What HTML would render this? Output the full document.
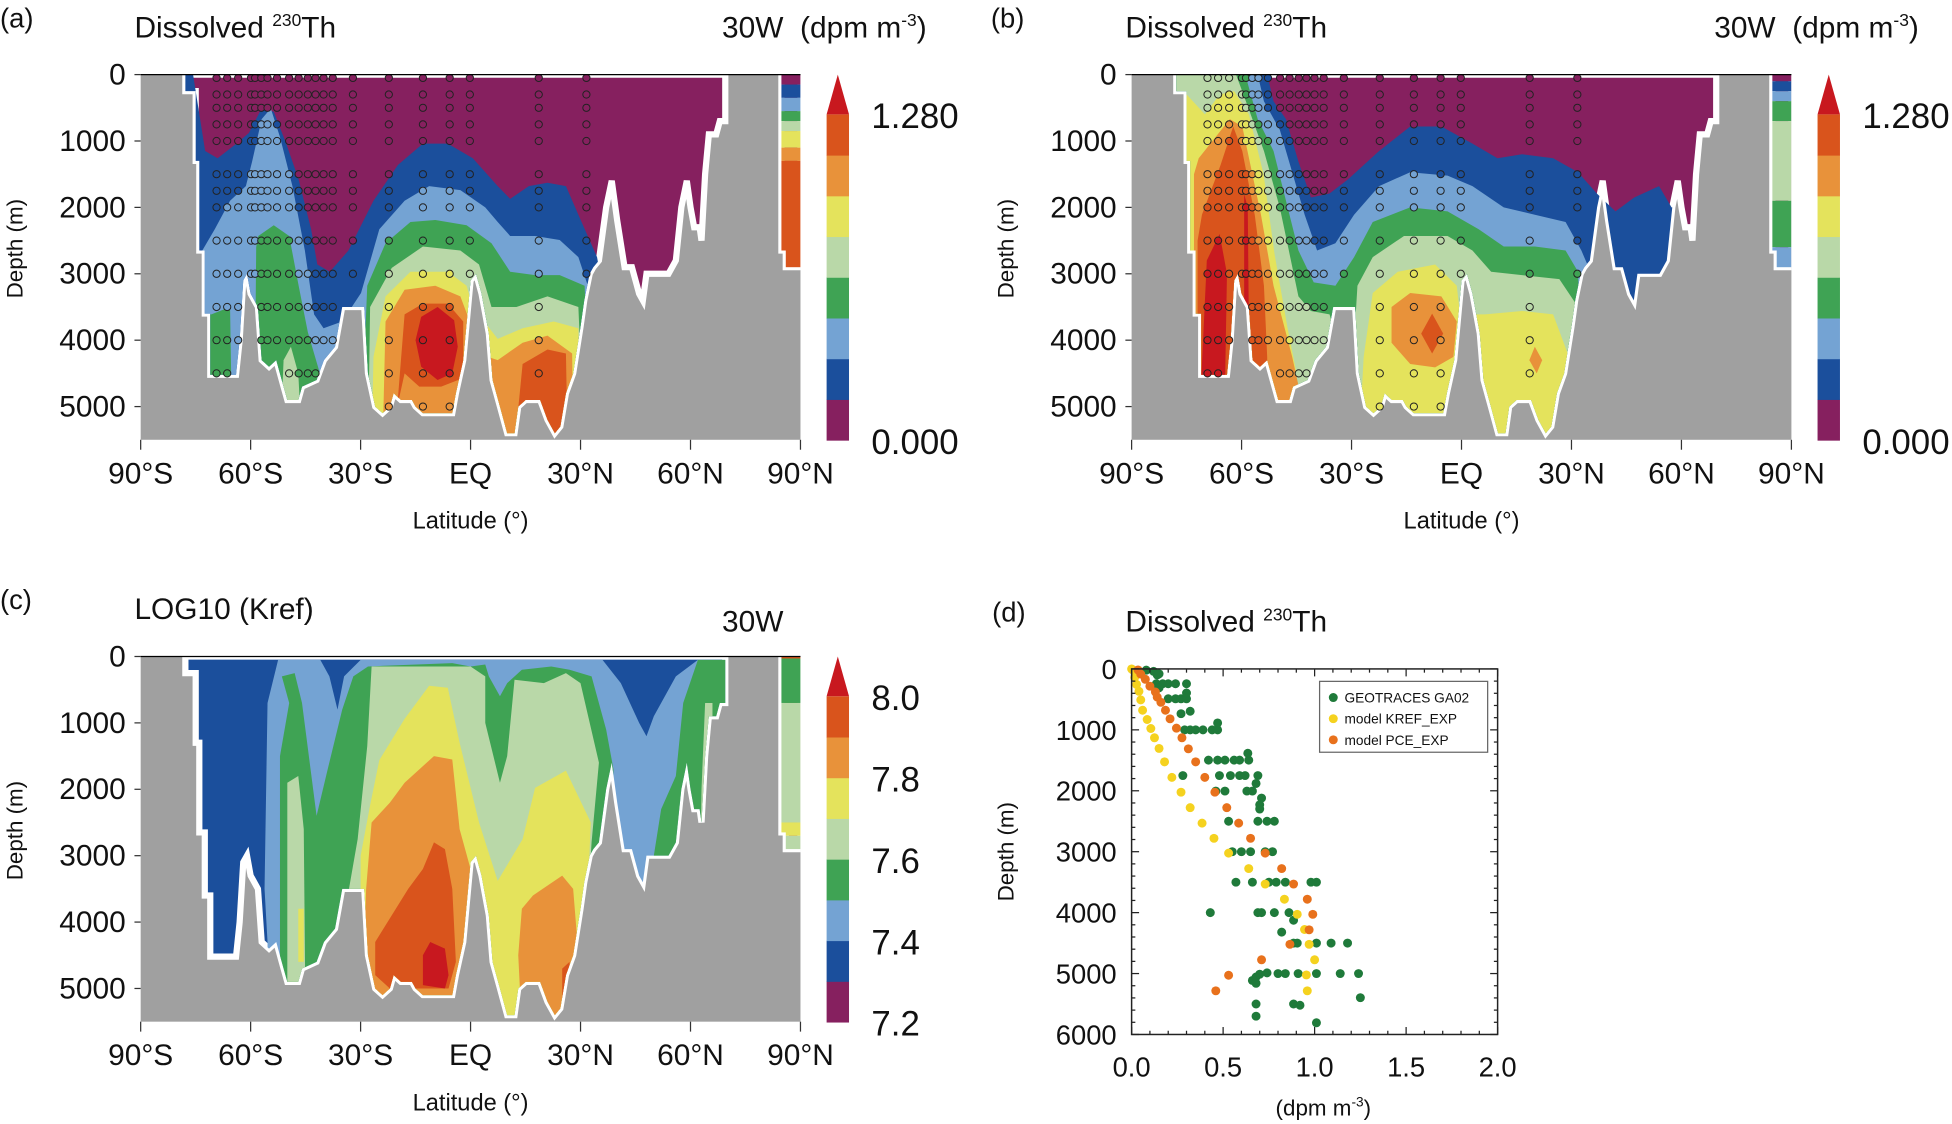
<!DOCTYPE html>
<html><head><meta charset="utf-8"><style>
html,body{margin:0;padding:0;background:#fff;}
svg{display:block;}
text{font-family:"Liberation Sans",sans-serif;fill:#111;}
</style></head><body>
<svg id="fig" width="1952" height="1124" viewBox="0 0 1568 904" preserveAspectRatio="none" xmlns="http://www.w3.org/2000/svg">
<defs></defs>
</svg>
<script>
// ---------- shared data ----------
const levelColors = ['#86205f','#1b4f9c','#74a3d3','#3fa354','#b9d8a8','#e4e35c','#e8923a','#d9541c','#c8181f'];
const latTicks = [-90,-60,-30,0,30,60,90];
const latTickLabels = ['90°S','60°S','30°S','EQ','30°N','60°N','90°N'];
const depthTicks = [0,1000,2000,3000,4000,5000];
const cbarLabelsAB = ['1.280','0.000'];
const cbarLabelsC = ['8.0','7.8','7.6','7.4','7.2'];
// ocean section outline (lat, depth)
const oceanOutline = [[-77.8,0],[-77.8,250],[-75,250],[-75,1300],[-74,1300],[-74,2650],[-72.5,2650],[-72.5,3600],[-71,3600],[-71,4520],
[-64,4520],[-63,4000],[-62,3100],[-61,3000],[-60,3300],[-58,3500],[-57,4300],[-55,4400],[-53,4300],[-51,4700],[-50,4900],[-47,4900],[-46,4700],[-42,4600],[-40,4300],[-37,4100],[-35,3500],[-29,3500],[-28,4500],[-26,5000],[-24,5100],[-22,5000],[-21,4800],[-19,4900],[-16,4900],[-15,5000],[-13,5100],[-5,5100],[-4,4800],[-2,4300],[0,3100],[1.5,3000],[3,3300],[5,3900],[6,4600],[8,5000],[10,5400],[12,5400],[13,5000],[15,4900],[19,4900],[21,5200],[23,5400],[24.5,5300],[26,4800],[28,4500],[30,3800],[31,3400],[32.5,3000],[33.5,2900],[35,2800],[37,2000],[38.5,1600],[40,2200],[42,2900],[44,2900],[46,3300],[47,3400],[48,3000],[54,3000],[56,2800],[57.5,2000],[59,1600],[60,2000],[61,2300],[62.5,2300],[63,2500],[64,1500],[65,900],[67,900],[68,700],[69.5,700],[69.5,0]];
const arcticOutline = [[84.8,0],[90,0],[90,2900],[86,2900],[86,2650],[84.8,2650]];

// panel a contour regions (value >= level k)
const contoursA = [
 [1,[[-80,0],[-75.7,0],[-72.4,1150],[-69,1260],[-63.9,1040],[-60.5,880],[-57,510],[-53.7,560],[-50.3,1040],[-46.9,1580],[-43.5,2330],[-41.8,2860],[-38.4,2970],[-33.3,2650],[-26.5,1900],[-19.8,1360],[-13,1040],[-6.2,1040],[0.6,1260],[7.4,1680],[10.8,1870],[15.9,1680],[21,1630],[26,1680],[29.4,2110],[34.5,2750],[36,3200],[36,6000],[-80,6000]]],
 [2,[[-80,6000],[-73.2,6000],[-73.2,2650],[-69.8,2330],[-65.6,1900],[-61.3,1680],[-59.6,1310],[-57,670],[-54.5,510],[-52,940],[-48.6,1680],[-45.2,2650],[-42.7,3610],[-40.1,3820],[-35,3720],[-29.9,3290],[-24.9,2330],[-18,1900],[-11.3,1680],[-2.8,1740],[4,2000],[7.4,2220],[10.8,2430],[17.6,2430],[24.3,2490],[29.4,2750],[32,3180],[34,3500],[34,6000]]],
 [3,[[-72,6000],[-72,3610],[-70.7,3610],[-65.6,3500],[-65,6000]]],
 [3,[[-59,6000],[-58.5,2600],[-57.9,2430],[-53.7,2270],[-49.5,2430],[-46.9,3180],[-44.4,3880],[-41,4520],[-40,6000]]],
 [3,[[-30,6000],[-28.2,3180],[-23.2,2540],[-16.4,2220],[-9.6,2190],[-1.1,2270],[5.7,2540],[10.8,2970],[17.6,3020],[24.3,3020],[31.1,3180],[33,6000]]],
 [4,[[-52,6000],[-51,4300],[-49,4100],[-47,4500],[-46,6000]]],
 [4,[[-28,6000],[-27.4,3500],[-21.5,2910],[-13,2590],[-2.8,2650],[2.3,2860],[5.7,3500],[12.5,3500],[21,3340],[29.4,3500],[31,6000]]],
 [5,[[-27,6000],[-26.5,4250],[-23.2,3340],[-16.4,2970],[-6.2,2970],[-1.1,3180],[0.6,3500],[7.4,3980],[14.2,3820],[22.7,3720],[29.4,3820],[30,6000]]],
 [6,[[-24,6000],[-23.2,3720],[-18,3240],[-9.6,3180],[-2.8,3340],[-0.2,3720],[2,4200],[7.4,4300],[14.2,4040],[21,3930],[27.7,4200],[28,6000]]],
 [7,[[-20,5000],[-18,3610],[-13,3450],[-6.2,3450],[-2,3720],[-2,4570],[-8,4700],[-14,4700],[-18,4500]]],
 [7,[[12,6000],[14.2,4360],[21,4140],[26,4200],[26.5,6000]]],
 [8,[[-15,4000],[-13.5,3650],[-9,3500],[-4.5,3700],[-3.5,4100],[-5,4500],[-9,4600],[-13.5,4400]]]
];
const contoursB = [
 [1,[[-80,0],[-53,0],[-51.3,400],[-47.9,670],[-44.5,1310],[-41.1,1850],[-36,1790],[-31,1580],[-22.5,1150],[-14,780],[-5.5,780],[3,1040],[9.8,1260],[16.5,1200],[25,1260],[31.8,1470],[36.9,1790],[42,2060],[47.1,1850],[53.9,1680],[57.3,2000],[58.5,2000],[58.5,6000],[-80,6000]]],
 [2,[[-80,0],[-55.6,0],[-53.9,400],[-49.6,830],[-46.2,1470],[-42.8,2110],[-39.4,2650],[-34.4,2540],[-29.3,2110],[-22.5,1680],[-14,1470],[-3.8,1520],[3,1680],[11.5,2000],[20,2110],[28.4,2220],[32.7,2650],[35.2,2970],[36,3000],[36,6000],[-80,6000]]],
 [3,[[-80,0],[-59,0],[-55.6,670],[-51.3,1150],[-47.9,1900],[-44.5,2650],[-40.3,3130],[-34.4,3180],[-29.3,2750],[-24.2,2220],[-14,2000],[-3.8,2060],[4.7,2330],[11.5,2590],[20,2590],[28.4,2650],[31.8,2970],[33,6000],[-80,6000]]],
 [4,[[-80,0],[-61.5,0],[-58.1,510],[-53.9,1150],[-49.6,2000],[-47.1,2650],[-44.5,3340],[-41.1,3560],[-36,3610],[-34,4000],[-34,6000],[-80,6000]]],
 [4,[[-31,6000],[-28.4,3180],[-24.2,2750],[-15.7,2430],[-3.8,2430],[3,2650],[8.1,2970],[16.5,3020],[26.7,3080],[31.8,3500],[32,6000]]],
 [5,[[-80,300],[-75,300],[-70,600],[-66,300],[-62,250],[-58,600],[-54,1500],[-51,2700],[-47.5,3800],[-45,4500],[-45,6000],[-80,6000]]],
 [5,[[-28,6000],[-26.7,4250],[-24.2,3290],[-17.4,2970],[-7.2,2860],[-1.3,3180],[-0.4,3610],[6.4,3610],[16.5,3560],[25,3610],[29.3,4250],[30,6000]]],
 [6,[[-73,6000],[-73,1500],[-71.7,1260],[-63.2,670],[-59.8,780],[-54.7,2110],[-51.3,3180],[-46.2,4250],[-44.5,4680],[-44,6000]]],
 [6,[[-19.1,3500],[-14,3290],[-5.5,3340],[-1.3,3720],[-2.2,4250],[-7.2,4410],[-14,4360],[-19.1,4040]]],
 [6,[[18.5,4300],[20,4100],[22,4300],[20.5,4500]]],
 [7,[[-72,6000],[-72,2500],[-70.8,2110],[-65.7,1360],[-62.3,780],[-59.8,1150],[-56.4,2110],[-53.9,3180],[-53,4250],[-53,6000]]],
 [7,[[-11,3900],[-8,3600],[-5,3900],[-8,4200]]],
 [8,[[-71,4600],[-69.5,2800],[-66,2400],[-64,3000],[-64.5,4600]]],
 [8,[[-59.3,1800],[-58.3,2000],[-58,3800],[-59.3,3800]]]
];
const contoursC = [
 [2,[[-52.5,50],[-41,50],[-38.5,300],[-36.3,800],[-34.5,300],[-30,50],[36,50],[41,400],[46,1000],[48,1200],[50,900],[56,300],[62,50],[75,50],[75,6000],[-55.4,6000],[-55.4,4300],[-56.2,3500],[-55.4,700]]],
 [3,[[-51.5,300],[-48,250],[-46,700],[-42,2400],[-39,1700],[-35,800],[-32,300],[-28,150],[-5,100],[0,150],[4,120],[5,300],[8,600],[10,400],[14,200],[22,150],[27,200],[33,300],[37,1100],[39,1700],[36.5,6000],[-52,6000],[-52,1500],[-49.5,700]]],
 [3,[[62,50],[58,700],[56,1800],[52,2300],[50,3000],[50,6000],[75,6000],[75,50]]],
 [4,[[-50,6000],[-50,1900],[-47,1800],[-45.5,2600],[-45,6000]]],
 [4,[[-27,150],[-28.2,1350],[-30.8,2750],[-33.5,3600],[-33.5,6000],[30,6000],[33,2800],[35,1600],[30,400],[26,250],[20,400],[12,350],[10,1500],[8,1900],[4,1000],[4,300],[0,150]]],
 [4,[[64,700],[66,700],[66,6000],[62,6000],[63,2000]]],
 [5,[[-47,3800],[-45.5,3800],[-45.5,4600],[-47,4600]]],
 [5,[[-11.3,440],[-6.2,470],[-3,1300],[2.3,2500],[7.4,3380],[14.2,2750],[17.6,1980],[26,1720],[32.8,2500],[32,3530],[32,6000],[-30,6000],[-30,3000],[-27.4,2240],[-24.9,1560],[-18,940]]],
 [6,[[-10,1500],[-5,1550],[-3,2600],[0,3200],[1,4600],[-2,6000],[-30,6000],[-29,4500],[-28.5,3500],[-27,2500],[-22,2200],[-18,1900]]],
 [6,[[14,3800],[17,3600],[25,3300],[28,3500],[29,4200],[27,6000],[14,6000],[13,4500]]],
 [7,[[-10,2800],[-7,2900],[-5,3500],[-4,4600],[-6,5000],[-22,5000],[-26,4800],[-26,4300],[-17,3500],[-13,3200]]],
 [7,[[25,4700],[27,4600],[27,5200],[25,5200]]],
 [8,[[-11,4300],[-7,4400],[-6,4800],[-7,5000],[-13,4950],[-13,4500]]]
];
// arctic bands [startDepth, level]
const arcticA = [[0,0],[150,1],[350,2],[550,3],[700,4],[850,5],[1100,6],[1300,7]];
const arcticB = [[0,0],[100,1],[250,2],[400,3],[700,4],[1900,3],[2600,2]];
const arcticC = [[0,7],[30,3],[700,4],[2500,5],[2700,4]];
// observation stations (a, b)
const stationLats = [-69.3,-66.4,-63.4,-59.9,-58.8,-57.1,-55.4,-52.8,-49.5,-46.9,-44.4,-42.3,-40.1,-37.6,-32.1,-22.3,-13,-5.7,-0.2,18.6,31.6];
const stationDepths = [50,300,500,750,1000,1500,1750,2000,2500,3000,3500,4000,4500,5000];
// panel d data
const obsVal = [0.08,0.12,0.15,0.14,0.135,0.17,0.20,0.24,0.30,0.15,0.2,0.24,0.27,0.30,0.30,0.27,0.32,0.29,0.32,0.35,0.39,0.44,0.47,0.47,0.42,0.47,0.51,0.56,0.59,0.64,0.635,0.28,0.48,0.54,0.59,0.62,0.69,0.68,0.46,0.51,0.63,0.66,0.71,0.70,0.70,0.53,0.69,0.74,0.78,0.55,0.60,0.65,0.73,0.77,0.57,0.66,0.75,0.79,0.84,0.98,1.01,0.43,0.69,0.71,0.78,0.86,0.885,0.82,0.885,0.905,1.01,1.09,1.18,0.66,0.68,0.70,0.74,0.80,0.84,0.91,1.01,1.14,1.24,0.68,1.25,0.68,0.885,0.92,0.68,1.01];
const obsDepth = [20,40,80,100,243,243,243,243,243,310,490,490,490,490,395,735,695,1000,1000,1000,1000,1000,1000,887,1497,1497,1497,1497,1497,1497,1384,1750,1750,1750,1750,1750,1750,1880,2005,2005,2005,2005,2120,2230,2300,2500,2500,2500,2500,3000,3000,3000,3000,3000,3500,3500,3500,3500,3500,3500,3500,4000,4000,4000,4000,4000,4125,4320,4500,4500,4500,4500,4500,5113,5057,5011,4989,5000,5000,5000,5000,5000,5000,5160,5396,5500,5500,5520,5700,5808];
const krefVal = [0.0,0.007,0.017,0.027,0.04,0.05,0.06,0.085,0.105,0.125,0.15,0.18,0.22,0.27,0.32,0.385,0.45,0.53,0.64,0.73,0.835,0.905,0.945,0.97,1.0,0.955,0.96];
const krefDepth = [0,17,140,254,367,508,678,830,978,1130,1305,1525,1780,2023,2277,2531,2780,3023,3277,3531,3780,4028,4277,4520,4774,5023,5283];
const pceVal = [0.035,0.05,0.075,0.1,0.13,0.14,0.16,0.185,0.21,0.245,0.275,0.31,0.35,0.40,0.455,0.52,0.585,0.65,0.73,0.82,0.885,0.96,0.99,0.97,0.865,0.71,0.53,0.46];
const pceDepth = [17,85,170,283,379,463,548,678,819,972,1130,1311,1525,1780,2023,2277,2531,2780,3023,3277,3531,3780,4028,4282,4520,4774,5028,5283];
const dXTicks = [0,0.5,1.0,1.5,2.0];
const dXTickLabels = ['0.0','0.5','1.0','1.5','2.0'];
const dYTicks = [0,1000,2000,3000,4000,5000,6000];

const NS='http://www.w3.org/2000/svg';
const svg=document.getElementById('fig');
const defs=svg.querySelector('defs');
function mk(tag,attrs,parent){const e=document.createElementNS(NS,tag);for(const k in attrs)e.setAttribute(k,attrs[k]);(parent||svg).appendChild(e);return e;}
function txt(s,x,y,size,anchor,parent,name){const t=mk('text',{x:x,y:y,'font-size':size,'text-anchor':anchor||'start'},parent);t.textContent=s;


return t;}
function inPoly(p,poly){let c=false;for(let i=0,j=poly.length-1;i<poly.length;j=i++){const a=poly[i],b=poly[j];if(((a[1]>p[1])!=(b[1]>p[1]))&&(p[0]<(b[0]-a[0])*(p[1]-a[1])/(b[1]-a[1])+a[0]))c=!c;}return c;}

function section(id,px0,py0,baseLevel,contours,arctic,title,cbarLabels,cbarMode,showStations){
  const px1=px0+530, pxPerM=0.0534, pyb=py0+5500*pxPerM;
  const xOf=lat=>px0+(lat+90)/180*(px1-px0);
  const yOf=d=>py0+d*pxPerM;
  const g=mk('g',{});
  
  
  const pts=arr=>arr.map(p=>xOf(p[0]).toFixed(1)+','+yOf(Math.min(p[1],5600)).toFixed(1)).join(' ');
  const cp=mk('clipPath',{id:'ocean-'+id},defs);
  mk('polygon',{points:pts(oceanOutline)},cp);
  const cpr=mk('clipPath',{id:'plot-'+id},defs);
  mk('rect',{x:px0,y:py0,width:530,height:pyb-py0},cpr);
  const bg=mk('rect',{x:px0,y:py0,width:530,height:pyb-py0,fill:'#a0a0a0'},g);
  
  
  const inner=mk('g',{'clip-path':'url(#plot-'+id+')'},g);
  const ob=mk('polygon',{points:pts(oceanOutline),fill:levelColors[baseLevel],stroke:'#fff','stroke-width':5,'stroke-linejoin':'miter'},inner);
  
  
  const cg=mk('g',{'clip-path':'url(#ocean-'+id+')'},inner);
  contours.forEach(c=>{const p=mk('polygon',{points:pts(c[1]),fill:levelColors[c[0]]},cg);
    
    });
  // arctic
  const ab=mk('polygon',{points:pts(arcticOutline),fill:levelColors[arctic[0][1]],stroke:'#fff','stroke-width':5},inner);
  
  
  const cpa=mk('clipPath',{id:'arc-'+id},defs);
  mk('polygon',{points:pts(arcticOutline)},cpa);
  const ag=mk('g',{'clip-path':'url(#arc-'+id+')'},inner);
  arctic.forEach((b,i)=>{const d1=i+1<arctic.length?arctic[i+1][0]:6000;
    const r=mk('rect',{x:xOf(84.5),y:yOf(b[0]),width:xOf(90)-xOf(84.5),height:yOf(Math.min(d1,5600))-yOf(b[0]),fill:levelColors[b[1]]},ag);
    
    });
  // stations
  if(showStations){
    stationLats.forEach(lat=>{stationDepths.forEach(d=>{
      if(!inPoly([lat,d],oceanOutline))return;
      let lv=baseLevel;contours.forEach(c=>{if(c[0]>lv&&inPoly([lat,d],c[1]))lv=c[0];});
      const ci=mk('circle',{cx:xOf(lat),cy:yOf(d),r:2.9,fill:levelColors[lv],stroke:'#222','stroke-width':0.8},inner);
      
      
    });});
  }
  // top line
  mk('line',{x1:px0,y1:py0,x2:px1,y2:py0,stroke:'#000','stroke-width':1},g);
  // axes ticks
  latTicks.forEach((lat,i)=>{mk('line',{x1:xOf(lat),y1:pyb,x2:xOf(lat),y2:pyb+8,stroke:'#333','stroke-width':1},g);
    txt(latTickLabels[i],xOf(lat),pyb+35,24,'middle',g,'x-tick-label');});
  depthTicks.forEach(d=>{mk('line',{x1:px0-5,y1:yOf(d),x2:px0,y2:yOf(d),stroke:'#333','stroke-width':1},g);
    txt(String(d),px0-12,yOf(d)+8,24,'end',g,'y-tick-label');});
  txt('Latitude (°)',px0+265,py0+365,19,'middle',g,'x-axis-title');
  const yt=txt('Depth (m)',0,0,18,'middle',g,'y-axis-title');
  yt.setAttribute('transform','translate('+(px0-95)+','+(py0+140)+') rotate(-90)');
  // colorbar
  const cx=px0+551,cw=18,ctop=py0+32,cbot=py0+294;
  const bh=(cbot-ctop)/8;
  for(let k=0;k<8;k++){const r=mk('rect',{x:cx,y:cbot-(k+1)*bh,width:cw,height:bh+0.4,fill:levelColors[k]},g);
    
    }
  const tri=mk('polygon',{points:cx+','+ctop+' '+(cx+cw)+','+ctop+' '+(cx+cw/2)+','+(py0)},g);
  tri.setAttribute('fill',levelColors[8]);
  
  
  if(cbarMode==='ab'){txt(cbarLabels[0],cx+36,ctop+11,28,'start',g,'colorbar-label');txt(cbarLabels[1],cx+36,cbot+11,28,'start',g,'colorbar-label');}
  else{cbarLabels.forEach((s,i)=>txt(s,cx+36,ctop+i*(cbot-ctop)/4+11,28,'start',g,'colorbar-label'));}
  // titles
  txt('('+id+')',px0-113,py0-38,22,'start',g,'panel-label');
  return g;
}
function title230(x,y,g){const t=txt('',x,y,24,'start',g,'panel-title');
  t.innerHTML='Dissolved <tspan font-size="14" dy="-9">230</tspan><tspan dy="9">Th</tspan>';}
const ga=section('a',113,60,0,contoursA,arcticA,'',cbarLabelsAB,'ab',true);
title230(108,30,ga);
const u1=txt('',580,30,24,'start',ga,'units-label');u1.innerHTML='30W&#160;&#160;(dpm m<tspan font-size="14" dy="-9">-3</tspan><tspan dy="9">)</tspan>';
const gb=section('b',909,60,0,contoursB,arcticB,'',cbarLabelsAB,'ab',true);
title230(904,30,gb);
const u2=txt('',1377,30,24,'start',gb,'units-label');u2.innerHTML='30W&#160;&#160;(dpm m<tspan font-size="14" dy="-9">-3</tspan><tspan dy="9">)</tspan>';
const gc=section('c',113,528,1,contoursC,arcticC,'',cbarLabelsC,'c',false);
txt('LOG10 (Kref)',108,498,24,'start',gc,'panel-title');
txt('30W',580,508,24,'start',gc,'section-label');

// ---------- panel d ----------
(function(){
  const x0=909,x1=1203,y0=538,y1=832;
  const xOf=v=>x0+v/2*(x1-x0);
  const yOf=d=>y0+d/6000*(y1-y0);
  const g=mk('g',{});
  
  
  txt('(d)',797,500,22,'start',g,'panel-label');
  title230(904,508,g);
  const series=[[obsVal,obsDepth,'#1f7a3a','obs-point'],[krefVal,krefDepth,'#f5d21f','kref-point'],[pceVal,pceDepth,'#e8711c','pce-point']];
  series.forEach(s=>{s[0].forEach((v,i)=>{const c=mk('circle',{cx:xOf(v),cy:yOf(s[1][i]),r:3.6,fill:s[2]},g);
    
    });});
  const fr=mk('rect',{x:x0,y:y0,width:x1-x0,height:y1-y0,fill:'none',stroke:'#222','stroke-width':1.2},g);
  
  
  for(let v=0;v<=2.0001;v+=0.1){const maj=Math.abs(v*2-Math.round(v*2))<1e-6;const L=maj?6:3;
    mk('line',{x1:xOf(v),y1:y0,x2:xOf(v),y2:y0+L,stroke:'#222'},g);mk('line',{x1:xOf(v),y1:y1,x2:xOf(v),y2:y1-L,stroke:'#222'},g);}
  for(let d=0;d<=6000;d+=200){const maj=d%1000===0;const L=maj?6:3;
    mk('line',{x1:x0,y1:yOf(d),x2:x0+L,y2:yOf(d),stroke:'#222'},g);mk('line',{x1:x1,y1:yOf(d),x2:x1-L,y2:yOf(d),stroke:'#222'},g);}
  dXTicks.forEach((v,i)=>txt(dXTickLabels[i],xOf(v),y1+34,22,'middle',g,'x-tick-label'));
  dYTicks.forEach(d=>txt(String(d),x0-12,yOf(d)+8,22,'end',g,'y-tick-label'));
  const xt=txt('',1063,897,18,'middle',g,'x-axis-title');xt.innerHTML='(dpm m<tspan font-size="11" dy="-7">-3</tspan><tspan dy="7">)</tspan>';
  const yt=txt('Depth (m)',0,0,18,'middle',g,'y-axis-title');yt.setAttribute('transform','translate(814,685) rotate(-90)');
  const lg=mk('g',{},g);
  
  
  mk('rect',{x:1060,y:548,width:135,height:57,fill:'#fff',stroke:'#666','stroke-width':1},lg);
  const ent=[['GEOTRACES GA02','#1f7a3a'],['model KREF_EXP','#f5d21f'],['model PCE_EXP','#e8711c']];
  ent.forEach((e,i)=>{const c=mk('circle',{cx:1071,cy:561+i*17,r:3.6,fill:e[1]},lg);
    
    
    txt(e[0],1080,565+i*17,11,'start',lg,'legend-entry');});
})();
</script>
</body></html>
